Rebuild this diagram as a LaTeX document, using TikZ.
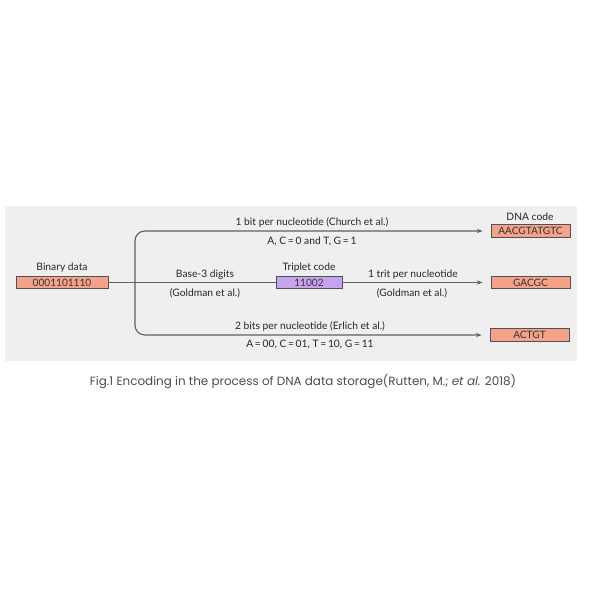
\documentclass[tikz,border=0pt]{standalone}
\usepackage{fontspec}
\setmainfont{Lato}
\newfontfamily\captionfont{Poppins}
\usetikzlibrary{arrows.meta}

\definecolor{panelgray}{HTML}{EFEFEF}
\definecolor{salmon}{HTML}{F5A28A}
\definecolor{lilac}{HTML}{C9A4EE}
\definecolor{linegray}{HTML}{5B6166}

\tikzset{
	codebox/.style={draw=linegray!85!black, line width=0.6pt, inner sep=0pt, minimum height=0.32cm, font=\fontsize{7.2}{8.5}\selectfont, text=black!80},
	lbl/.style={font=\fontsize{7.3}{8.5}\selectfont, text=black!85, inner sep=0pt},
	flow/.style={draw=linegray, line width=0.8pt},
	tip/.style={-{Stealth[length=4pt,width=3pt]}, shorten >=0.2cm},
}

\begin{document}
\begin{tikzpicture}[x=0.025cm,y=-0.025cm]
	\useasboundingbox (0,0) rectangle (600,600);
	
	%grey panel
	\fill[panelgray] (5,206) rectangle (577,361);
	
	%boxes
	\node[codebox,fill=salmon,minimum width=2.3cm]   (bin)  at (62,282.5)  {0001101110};
	\node[codebox,fill=lilac,minimum width=1.65cm]   (trip) at (309,282.5) {11002};
	\node[codebox,fill=salmon,minimum width=1.975cm] (dna1) at (530.5,231) {AACGTATGTC};
	\node[codebox,fill=salmon,minimum width=1.975cm] (dna2) at (530.5,282.5) {GACGC};
	\node[codebox,fill=salmon,minimum width=1.975cm] (dna3) at (529.5,335) {ACTGT};
	
	%box titles
	\node[lbl] (bintitle)  at (62,268)  {Binary data};
	\node[lbl] (triptitle) at (309,268) {Triplet code};
	\node[lbl] (dnatitle)  at (530,217) {DNA code};
	
	%arrows
	\coordinate (fork) at (135,282.5);
	\draw[flow] (bin.east)--(trip.west);						%binary to triplet
	\draw[flow,tip] (trip.east)--(dna2.west);					%triplet to DNA
	\draw[flow,tip,rounded corners=7pt] (fork) |- (dna1.west);	%top branch
	\draw[flow,tip,rounded corners=7pt] (fork) |- (dna3.west);	%bottom branch
	
	%labels - arrows
	\node[lbl] (church)  at (312,222) {1 bit per nucleotide (Church et al.)};
	\node[lbl] (churchr) at (312,241) {A, C\,=\,0 and T, G\,=\,1};
	\node[lbl] (base3)   at (205,275) {Base-3 digits};
	\node[lbl] (gold1)   at (205,293) {(Goldman et al.)};
	\node[lbl] (trit)    at (413,275) {1 trit per nucleotide};
	\node[lbl] (gold2)   at (412,293) {(Goldman et al.)};
	\node[lbl] (erlich)  at (310,326) {2 bits per nucleotide (Erlich et al.)};
	\node[lbl] (erlichr) at (310,344) {A\,=\,00, C\,=\,01, T\,=\,10, G\,=\,11};
	
	%caption
	\node[inner sep=0pt,text=black!70,font=\captionfont\fontsize{8.5}{10}\selectfont] (caption) at (303,382)
		{Fig.1 Encoding in the process of DNA data storage(Rutten, M.; \textit{et al.} 2018)};
\end{tikzpicture}
\end{document}
